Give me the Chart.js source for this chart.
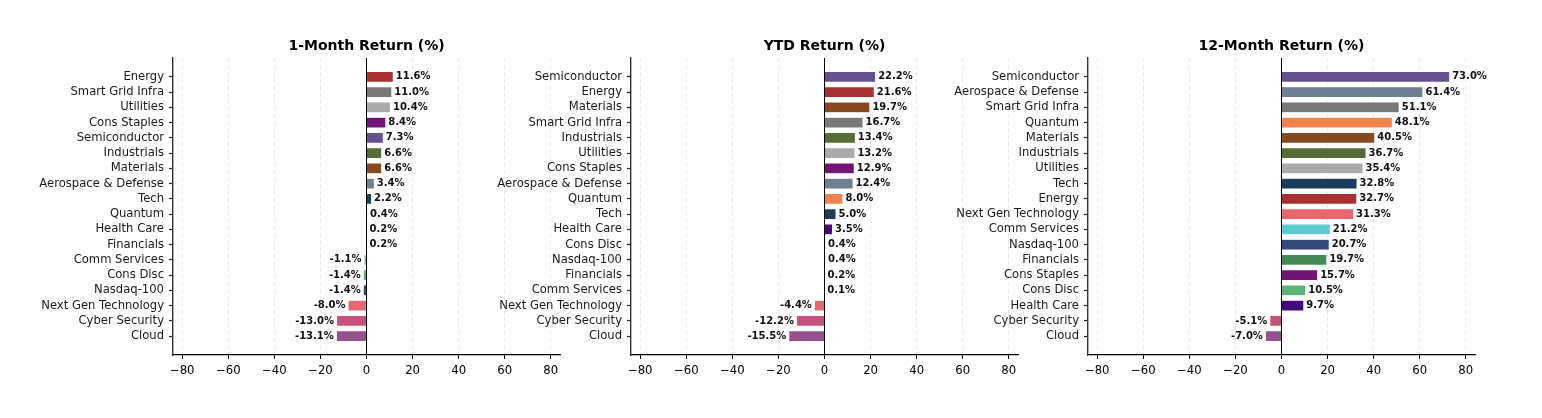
<!DOCTYPE html>
<html>
<head>
<meta charset="utf-8">
<script src="https://cdn.jsdelivr.net/npm/chart.js@4.4.0/dist/chart.umd.min.js"></script>
<style>
  body { margin: 0; background: #fff; }
  #wrap { position: relative; width: 1542px; height: 418px; overflow: hidden; }
  .panel { position: absolute; top: 0; width: 600px; height: 418px; }
</style>
</head>
<body>
<div id="wrap">
  <div class="panel" style="left:3px"><canvas id="c1"></canvas></div>
  <div class="panel" style="left:461px"><canvas id="c2"></canvas></div>
  <div class="panel" style="left:918px"><canvas id="c3"></canvas></div>
</div>
<script>
// Data
const cats1m = ['Energy', 'Smart Grid Infra', 'Utilities', 'Cons Staples', 'Semiconductor', 'Industrials',
  'Materials', 'Aerospace & Defense', 'Tech', 'Quantum', 'Health Care', 'Financials', 'Comm Services',
  'Cons Disc', 'Nasdaq-100', 'Next Gen Technology', 'Cyber Security', 'Cloud'];
const vals1m = [11.6, 11.0, 10.4, 8.4, 7.3, 6.6, 6.6, 3.4, 2.2, 0.4, 0.2, 0.2, -1.1, -1.4, -1.4, -8.0, -13.0, -13.1];

const catsYtd = ['Semiconductor', 'Energy', 'Materials', 'Smart Grid Infra', 'Industrials', 'Utilities',
  'Cons Staples', 'Aerospace & Defense', 'Quantum', 'Tech', 'Health Care', 'Cons Disc', 'Nasdaq-100',
  'Financials', 'Comm Services', 'Next Gen Technology', 'Cyber Security', 'Cloud'];
const valsYtd = [22.2, 21.6, 19.7, 16.7, 13.4, 13.2, 12.9, 12.4, 8.0, 5.0, 3.5, 0.4, 0.4, 0.2, 0.1, -4.4, -12.2, -15.5];

const cats12m = ['Semiconductor', 'Aerospace & Defense', 'Smart Grid Infra', 'Quantum', 'Materials', 'Industrials',
  'Utilities', 'Tech', 'Energy', 'Next Gen Technology', 'Comm Services', 'Nasdaq-100', 'Financials',
  'Cons Staples', 'Cons Disc', 'Health Care', 'Cyber Security', 'Cloud'];
const vals12m = [73.0, 61.4, 51.1, 48.1, 40.5, 36.7, 35.4, 32.8, 32.7, 31.3, 21.2, 20.7, 19.7, 15.7, 10.5, 9.7, -5.1, -7.0];

const xTicks = [-80, -60, -40, -20, 0, 20, 40, 60, 80];

// Colour for each sector (same across panels)
const sectorColors = {
  'Semiconductor': '#65518f',
  'Aerospace & Defense': '#708090',
  'Smart Grid Infra': '#787878',
  'Quantum': '#f08250',
  'Materials': '#854a20',
  'Industrials': '#566b35',
  'Utilities': '#aaaaaa',
  'Tech': '#1b3d5b',
  'Energy': '#a83030',
  'Next Gen Technology': '#e8666e',
  'Comm Services': '#5ecbd0',
  'Nasdaq-100': '#344979',
  'Financials': '#478a5a',
  'Cons Staples': '#711475',
  'Cons Disc': '#5db277',
  'Health Care': '#440a7a',
  'Cyber Security': '#c8527e',
  'Cloud': '#96528f'
};

const FONT = 'DejaVu Sans';

// Draws the title, the zero line and the value labels
const barExtras = {
  id: 'barExtras',
  afterDatasetsDraw(chart, args, opts) {
    const ctx = chart.ctx;
    const xs = chart.scales.x;
    const area = chart.chartArea;
    const x0 = xs.getPixelForValue(0);
    ctx.save();
    ctx.strokeStyle = '#000';
    ctx.lineWidth = 1;
    ctx.beginPath();
    ctx.moveTo(x0, area.top);
    ctx.lineTo(x0, area.bottom);
    ctx.stroke();

    ctx.font = 'bold 10px "' + FONT + '"';
    ctx.fillStyle = '#111';
    ctx.textBaseline = 'middle';
    const meta = chart.getDatasetMeta(0);
    chart.data.datasets[0].data.forEach((d, i) => {
      const bar = meta.data[i];
      const px = xs.getPixelForValue(d.x);
      const txt = d.x.toFixed(1) + '%';
      if (d.x >= 0) {
        ctx.textAlign = 'left';
        ctx.fillText(txt, px + 2.5, bar.y);
      } else {
        ctx.textAlign = 'right';
        ctx.fillText(txt, px - 2.5, bar.y);
      }
    });

    // panel title, centred over the plot area
    ctx.font = 'bold 14px "' + FONT + '"';
    ctx.fillStyle = '#000';
    ctx.textAlign = 'center';
    ctx.fillText(opts.text, (area.left + area.right) / 2, area.top - 11.8);
    ctx.restore();
  }
};

function drawPanel(id, title, cats, vals) {
  const ctx = document.getElementById(id).getContext('2d');
  new Chart(ctx, {
    type: 'bar',
    data: {
      datasets: [{
        data: vals.map((v, i) => ({ x: v, y: i })),
        backgroundColor: cats.map(c => sectorColors[c]),
        borderColor: 'rgba(255,255,255,0.45)',
        borderWidth: 0.5,
        categoryPercentage: 1.0,
        barPercentage: 0.7
      }]
    },
    options: {
      indexAxis: 'y',
      responsive: true,
      maintainAspectRatio: false,
      animation: false,
      layout: { padding: { top: 58, right: 43, left: 0, bottom: 0 } },
      plugins: {
        legend: { display: false },
        tooltip: { enabled: false },
        title: { display: false },
        barExtras: { text: title }
      },
      scales: {
        x: {
          type: 'linear',
          min: -84,
          max: 84,
          afterBuildTicks: s => { s.ticks = xTicks.map(v => ({ value: v })); },
          afterFit: s => { s.height = 63; },
          ticks: {
            color: '#000',
            font: { family: FONT, size: 11.7 },
            padding: 5,
            maxRotation: 0,
            callback: v => (v < 0 ? '\u2212' + Math.abs(v) : String(v))
          },
          grid: {
            color: '#e4e4e4',
            lineWidth: 0.8,
            tickColor: '#000',
            tickLength: 4,
            tickWidth: 1,
            tickBorderDash: []
          },
          border: { display: true, color: '#000', width: 1.2, dash: [4, 3] }
        },
        y: {
          type: 'linear',
          reverse: true,
          offset: false,
          min: -1.235,
          max: 18.235,
          afterBuildTicks: s => { s.ticks = cats.map((c, i) => ({ value: i })); },
          afterFit: s => { s.width = 170; },
          ticks: {
            color: '#1a1a1a',
            font: { family: FONT, size: 11.6 },
            padding: 5,
            autoSkip: false,
            callback: v => cats[v]
          },
          grid: {
            offset: false,
            drawOnChartArea: false,
            drawTicks: true,
            tickLength: 4,
            tickColor: '#222',
            tickWidth: 1.2
          },
          border: { display: true, color: '#333', width: 1.4 }
        }
      }
    },
    plugins: [barExtras]
  });
}

drawPanel('c1', '1-Month Return (%)', cats1m, vals1m);
drawPanel('c2', 'YTD Return (%)', catsYtd, valsYtd);
drawPanel('c3', '12-Month Return (%)', cats12m, vals12m);
</script>
</body>
</html>
